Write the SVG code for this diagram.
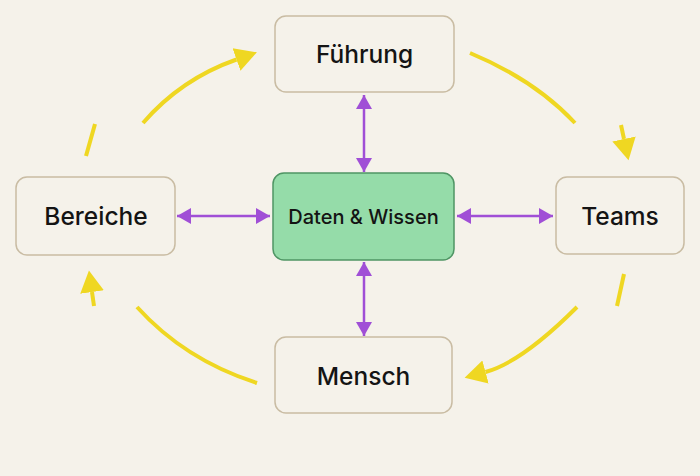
<svg xmlns="http://www.w3.org/2000/svg" width="700" height="476" viewBox="0 0 700 476">
  <defs>
    <style>
      .box { fill: #f5f2ea; stroke: #c9bca3; stroke-width: 1.5; }
      .core { fill: #95dca9; stroke: #4f9564; stroke-width: 1.5; }
      .lbl { font-family: Inter, "Liberation Sans", sans-serif; font-size: 24.5px; font-weight: 500; fill: #141414; text-anchor: middle; dominant-baseline: central; }
      .lbl-core { font-size: 20px; }
      .cycle { fill: none; stroke: #efd722; stroke-width: 4; stroke-linecap: butt; }
      .link { fill: none; stroke: #a04fd6; stroke-width: 2.5; marker-start: url(#pHead); marker-end: url(#pHead); }
    </style>
    <marker id="yHead" markerUnits="userSpaceOnUse" markerWidth="24" markerHeight="26" viewBox="0 -12 22 24" refX="0" refY="0" orient="auto">
      <path d="M0,-11 L20,0 L0,11 z" fill="#efd722"/>
    </marker>
    <marker id="pHead" markerUnits="userSpaceOnUse" markerWidth="16" markerHeight="18" viewBox="0 -9 15 18" refX="14" refY="0" orient="auto-start-reverse">
      <path d="M0,-8 L14,0 L0,8 z" fill="#a04fd6"/>
    </marker>
  </defs>

  <rect width="700" height="476" fill="#f5f2ea"/>

  <g id="connectors">
    <!-- cycle arcs -->
    <path class="cycle" d="M143,123 Q181,79 236.5,59.5" marker-end="url(#yHead)"/>
    <path class="cycle" d="M95,124 L86,156"/>
    <path class="cycle" d="M470,53 Q535,80 575,123"/>
    <path class="cycle" d="M621,125 L624,139" marker-end="url(#yHead)"/>
    <path class="cycle" d="M624,274 L617,306"/>
    <path class="cycle" d="M577,307 Q522,362 485.5,372" marker-end="url(#yHead)"/>
    <path class="cycle" d="M257,383 Q185,360 137,307"/>
    <path class="cycle" d="M94,306 L92,292" marker-end="url(#yHead)"/>
    <!-- hub links -->
    <path class="link" d="M364,95 L364,172"/>
    <path class="link" d="M364,262 L364,336"/>
    <path class="link" d="M177,216 L270,216"/>
    <path class="link" d="M457,216 L553,216"/>
  </g>

  <g id="node-fuehrung">
    <rect class="box" x="275" y="16" width="179" height="76" rx="11"/>
    <text class="lbl" x="364.5" y="54">Führung</text>
  </g>
  <g id="node-teams">
    <rect class="box" x="556" y="177" width="128" height="77" rx="11"/>
    <text class="lbl" x="620" y="216">Teams</text>
  </g>
  <g id="node-bereiche">
    <rect class="box" x="16" y="177" width="159" height="78" rx="11"/>
    <text class="lbl" x="96" y="216">Bereiche</text>
  </g>
  <g id="node-mensch">
    <rect class="box" x="275" y="337" width="177" height="76" rx="11"/>
    <text class="lbl" x="363.5" y="376">Mensch</text>
  </g>
  <g id="node-daten">
    <rect class="core" x="273" y="173" width="181" height="87" rx="11"/>
    <text class="lbl lbl-core" x="363.5" y="217">Daten &amp; Wissen</text>
  </g>
</svg>
